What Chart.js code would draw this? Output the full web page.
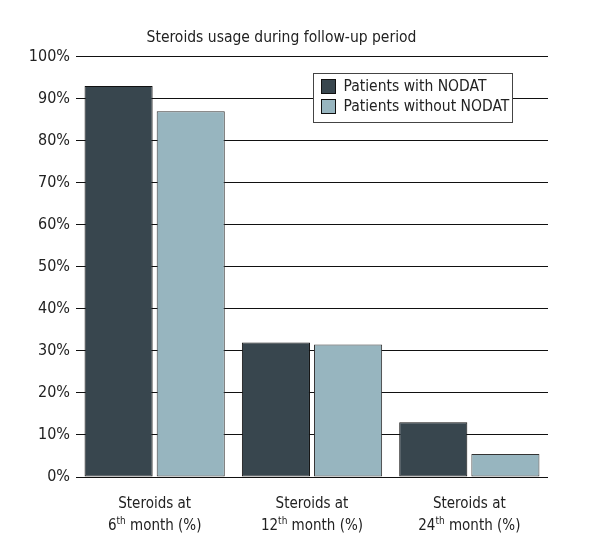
<!DOCTYPE html>
<html><head><meta charset="utf-8">
<script src="https://cdn.jsdelivr.net/npm/chart.js@4.4.1/dist/chart.umd.min.js"></script>
<style>html,body{margin:0;padding:0;background:#fff}#wrap{width:600px;height:560px}</style>
</head><body><div id="wrap"><canvas id="c" width="600" height="560"></canvas></div>
<script>
const titleText = 'Steroids usage during follow-up period';
const categories = [['Steroids at', '6th month (%)'], ['Steroids at', '12th month (%)'], ['Steroids at', '24th month (%)']];
const seriesNames = ['Patients with NODAT', 'Patients without NODAT'];
const withNodat = [93, 32, 13];
const withoutNodat = [87, 31.5, 5.5];
const yTicks = [0, 10, 20, 30, 40, 50, 60, 70, 80, 90, 100];

const FONT = "'DejaVu Sans Condensed', 'Liberation Sans Narrow', sans-serif";
const colors = ['#38464e', '#97b5bf'];

const xLabelPlugin = {
  id: 'xLabels',
  afterDraw(chart) {
    const ctx = chart.ctx, xs = chart.scales.x;
    ctx.save();
    ctx.fillStyle = '#222';
    ctx.textBaseline = 'alphabetic';
    const fs = 15, sfs = 10;
    categories.forEach((lines, i) => {
      const cx = xs.getPixelForTick(i);
      lines.forEach((ln, j) => {
        const y = chart.chartArea.bottom + 31 + j * 22;
        const m = ln.match(/^(\d+)(th)(.*)$/);
        if (m) {
          ctx.font = fs + 'px ' + FONT;
          const w1 = ctx.measureText(m[1]).width, w3 = ctx.measureText(m[3]).width;
          ctx.font = sfs + 'px ' + FONT;
          const w2 = ctx.measureText(m[2]).width;
          let x = cx - (w1 + w2 + w3) / 2;
          ctx.textAlign = 'left';
          ctx.font = fs + 'px ' + FONT; ctx.fillText(m[1], x, y); x += w1;
          ctx.font = sfs + 'px ' + FONT; ctx.fillText(m[2], x, y - 6); x += w2;
          ctx.font = fs + 'px ' + FONT; ctx.fillText(m[3], x, y);
        } else {
          ctx.font = fs + 'px ' + FONT;
          ctx.textAlign = 'center';
          ctx.fillText(ln, cx, y);
        }
      });
    });
    ctx.restore();
  }
};

const legendPlugin = {
  id: 'boxLegend',
  afterDraw(chart) {
    const ctx = chart.ctx;
    const x0 = 313.5, y0 = 73.5, w = 199, h = 49;
    ctx.save();
    ctx.fillStyle = '#fff';
    ctx.fillRect(x0, y0, w, h);
    ctx.strokeStyle = '#444';
    ctx.lineWidth = 1;
    ctx.strokeRect(x0, y0, w, h);
    chart.data.datasets.forEach((ds, i) => {
      const sy = y0 + 6 + i * 20;
      ctx.fillStyle = ds.backgroundColor;
      ctx.fillRect(x0 + 8, sy, 14, 14);
      ctx.strokeStyle = '#111';
      ctx.strokeRect(x0 + 8, sy, 14, 14);
      ctx.fillStyle = '#222';
      ctx.font = '15.5px ' + FONT;
      ctx.textAlign = 'left';
      ctx.textBaseline = 'middle';
      ctx.fillText(ds.label, x0 + 30, sy + 7.5);
    });
    ctx.restore();
  }
};

new Chart(document.getElementById('c'), {
  type: 'bar',
  data: {
    labels: categories,
    datasets: [
      { label: seriesNames[0], data: withNodat, backgroundColor: colors[0], borderColor: '#111', borderWidth: 1, borderSkipped: false },
      { label: seriesNames[1], data: withoutNodat, backgroundColor: colors[1], borderColor: '#333', borderWidth: 1, borderSkipped: false }
    ]
  },
  options: {
    responsive: false,
    animation: false,
    categoryPercentage: 0.917,
    barPercentage: 0.944,
    layout: { padding: { left: 15, right: 52, top: 0, bottom: 0 } },
    plugins: {
      legend: { display: false },
      tooltip: { enabled: false },
      title: {
        display: true, text: titleText, color: '#222',
        font: { family: FONT, size: 15.5, weight: 'normal' },
        padding: { top: 29, bottom: 9 }
      }
    },
    scales: {
      x: {
        grid: { display: false },
        border: { display: false },
        ticks: { display: false },
        afterFit(s) { s.height = 83; }
      },
      y: {
        min: 0, max: 100,
        afterBuildTicks(s) { s.ticks = yTicks.map(v => ({ value: v })); },
        afterFit(s) { s.width = 61; },
        grid: { color: '#111', lineWidth: 1, drawTicks: false },
        border: { display: false },
        ticks: {
          padding: 6, color: '#222',
          font: { family: FONT, size: 16 },
          callback: v => v + '%'
        }
      }
    }
  },
  plugins: [xLabelPlugin, legendPlugin]
});
</script>
</body></html>
